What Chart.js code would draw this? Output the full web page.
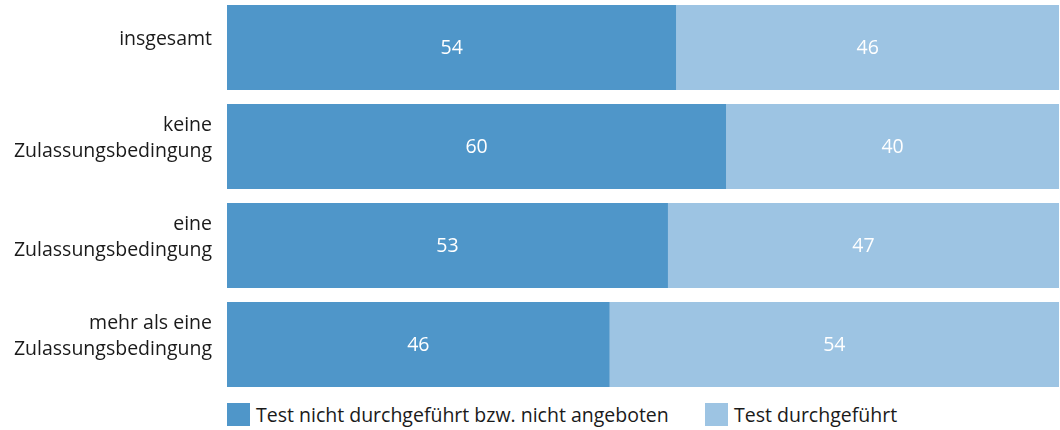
<!DOCTYPE html>
<html>
<head>
<meta charset="utf-8">
<script src="https://cdn.jsdelivr.net/npm/chart.js@4/dist/chart.umd.min.js"></script>
<style>
  html, body { margin: 0; padding: 0; background: #fff; }
  body { width: 1060px; height: 430px; position: relative; overflow: hidden; font-family: "Open Sans", sans-serif; }
  #wrap { position: absolute; left: 0; top: -2px; width: 1060px; height: 396px; }
  .legend { position: absolute; top: 403px; display: flex; align-items: center; font-size: 19.5px; line-height: 23px; color: #1a1a1a; }
  .legend span.box { display: inline-block; width: 23px; height: 23px; margin-right: 6px; }
</style>
</head>
<body>
<div id="wrap"><canvas id="chart"></canvas></div>
<div class="legend" style="left:227px"><span class="box" style="background:#4f96c9"></span>Test nicht durchgeführt bzw. nicht angeboten</div>
<div class="legend" style="left:705px"><span class="box" style="background:#9dc4e3"></span>Test durchgeführt</div>
<script>
const categories = [
    'insgesamt',
    ['keine', 'Zulassungsbedingung'],
    ['eine', 'Zulassungsbedingung'],
    ['mehr als eine', 'Zulassungsbedingung']
];
const notOffered = [54, 60, 53, 46];
const conducted = [46, 40, 47, 54];

// draws the white value inside each segment
const valueLabels = {
    id: 'valueLabels',
    afterDatasetsDraw(c) {
        const g = c.ctx;
        g.save();
        g.fillStyle = '#fff';
        g.font = '19.5px "Open Sans", sans-serif';
        g.textAlign = 'center';
        g.textBaseline = 'middle';
        c.data.datasets.forEach((ds, i) => {
            c.getDatasetMeta(i).data.forEach((bar, j) => {
                const x = (bar.x + bar.base) / 2;
                g.fillText(ds.data[j], x, bar.y + 1);
            });
        });
        g.restore();
    }
};

new Chart(document.getElementById('chart'), {
    type: 'bar',
    data: {
        labels: categories,
        datasets: [
            { label: 'Test nicht durchgeführt bzw. nicht angeboten', data: notOffered, backgroundColor: '#4f96c9' },
            { label: 'Test durchgeführt', data: conducted, backgroundColor: '#9dc4e3' }
        ]
    },
    options: {
        indexAxis: 'y',
        responsive: true,
        maintainAspectRatio: false,
        animation: false,
        layout: { padding: { left: 0, right: 1, top: 0, bottom: 0 } },
        datasets: { bar: { categoryPercentage: 85 / 99, barPercentage: 1, borderWidth: 0 } },
        scales: {
            x: { stacked: true, min: 0, max: 100, display: false },
            y: {
                stacked: true,
                grid: { display: false, drawTicks: false },
                border: { display: false },
                ticks: { color: '#1a1a1a', padding: 15, labelOffset: -8, font: { size: 19.5, family: '"Open Sans", sans-serif', lineHeight: 1.36 } },
                afterFit(s) {
                    s.width = 227;
                    s.paddingTop = 0;
                    s.paddingBottom = 0;
                }
            }
        },
        plugins: { legend: { display: false }, tooltip: { enabled: false } }
    },
    plugins: [valueLabels]
});
</script>
</body>
</html>
